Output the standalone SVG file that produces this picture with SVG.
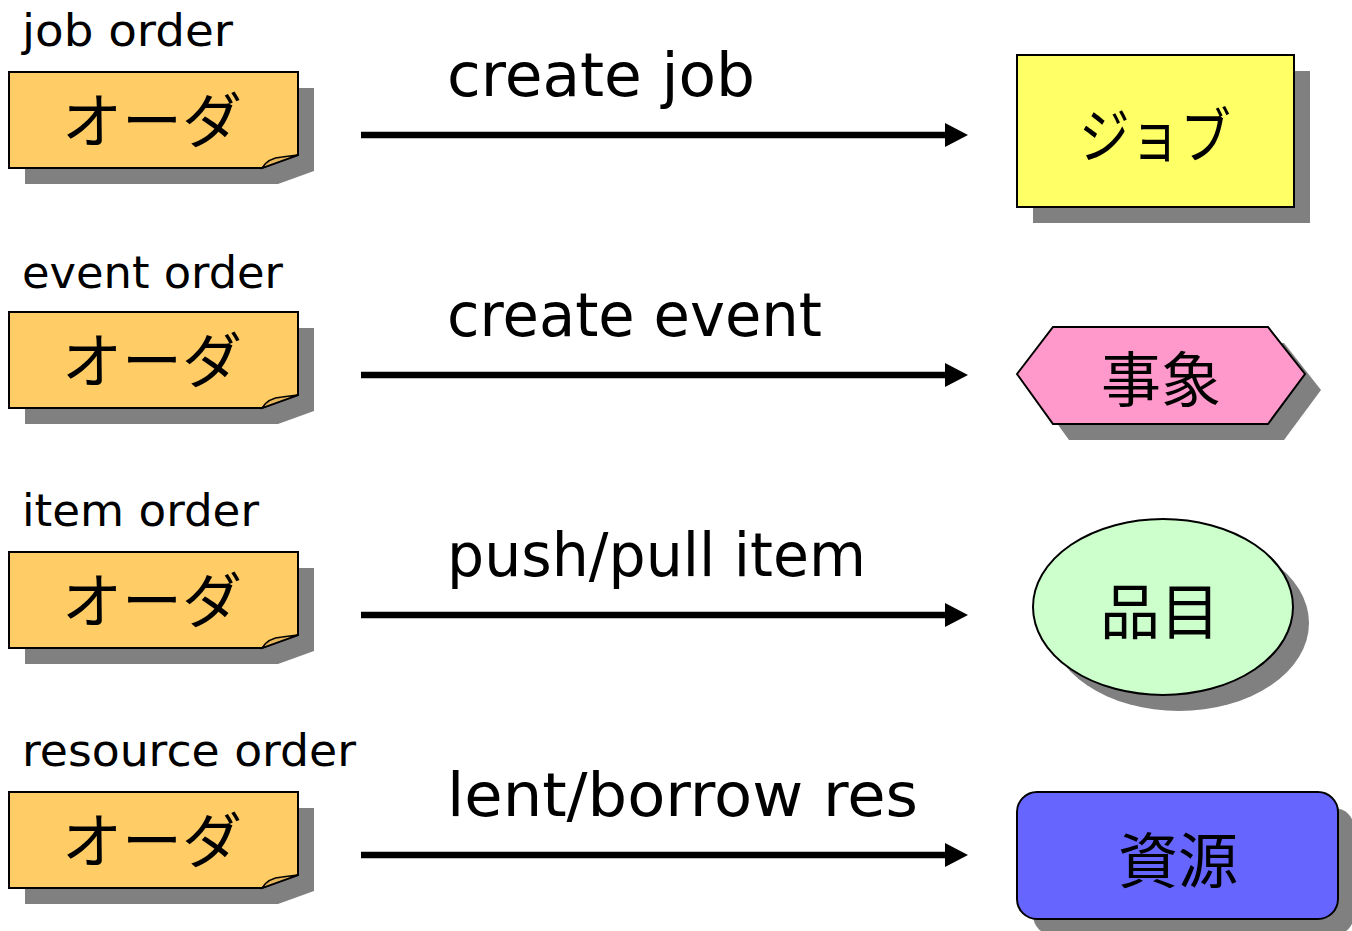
<svg xmlns="http://www.w3.org/2000/svg" width="1352" height="931" viewBox="0 0 1352 931">
<style>
.bg{fill:#ffffff}
.sh{fill:#808080;stroke:none}
.note{fill:#FFCC66;stroke:#000;stroke-width:2;stroke-linejoin:miter}
.flap{fill:#E8B65A;stroke:#000;stroke-width:1.5}
.lbl{font-family:"DejaVu Sans","Noto Sans",sans-serif;font-size:45px;fill:#000}
.elbl{font-family:"DejaVu Sans","Noto Sans",sans-serif;font-size:60px;fill:#000}
.jp{font-family:"Noto Sans CJK JP","Noto Sans CJK SC",sans-serif;font-size:60px;fill:#000;text-anchor:middle}
.edge{stroke:#000;stroke-width:6.5;fill:none}
.head{fill:#000}
</style>
<rect class="bg" x="0" y="0" width="1352" height="931"/>
<defs>
<path id="noteShape" d="M9,72 H298 V155 L262,168 H9 Z"/>
</defs>

<g id="order-job">
<text class="lbl" x="22" y="46" textLength="211" lengthAdjust="spacingAndGlyphs">job order</text>
<use href="#noteShape" class="sh" transform="translate(16,16)"/>
<use href="#noteShape" class="note"/>
<path class="flap" d="M262,168 Q268,158 282,157 L298,155 Z"/>
<text class="jp" x="152" y="143">オーダ</text>
</g>
<g id="order-event" transform="translate(0,240)">
<text class="lbl" x="22" y="48" textLength="261" lengthAdjust="spacingAndGlyphs">event order</text>
<use href="#noteShape" class="sh" transform="translate(16,16)"/>
<use href="#noteShape" class="note"/>
<path class="flap" d="M262,168 Q268,158 282,157 L298,155 Z"/>
<text class="jp" x="152" y="143">オーダ</text>
</g>
<g id="order-item" transform="translate(0,480)">
<text class="lbl" x="22" y="46" textLength="237" lengthAdjust="spacingAndGlyphs">item order</text>
<use href="#noteShape" class="sh" transform="translate(16,16)"/>
<use href="#noteShape" class="note"/>
<path class="flap" d="M262,168 Q268,158 282,157 L298,155 Z"/>
<text class="jp" x="152" y="143">オーダ</text>
</g>
<g id="order-resource" transform="translate(0,720)">
<text class="lbl" x="22" y="46" textLength="334" lengthAdjust="spacingAndGlyphs">resource order</text>
<use href="#noteShape" class="sh" transform="translate(16,16)"/>
<use href="#noteShape" class="note"/>
<path class="flap" d="M262,168 Q268,158 282,157 L298,155 Z"/>
<text class="jp" x="152" y="143">オーダ</text>
</g>

<g id="connectors">
<line class="edge" x1="361" y1="135" x2="948" y2="135"/>
<polygon class="head" points="945,123 968,135 945,147"/>
<text class="elbl" x="447" y="96" textLength="308" lengthAdjust="spacingAndGlyphs">create job</text>
<line class="edge" x1="361" y1="375" x2="948" y2="375"/>
<polygon class="head" points="945,363 968,375 945,387"/>
<text class="elbl" x="447" y="336" textLength="375" lengthAdjust="spacingAndGlyphs">create event</text>
<line class="edge" x1="361" y1="615" x2="948" y2="615"/>
<polygon class="head" points="945,603 968,615 945,627"/>
<text class="elbl" x="447" y="576" textLength="419" lengthAdjust="spacingAndGlyphs">push/pull item</text>
<line class="edge" x1="361" y1="855" x2="948" y2="855"/>
<polygon class="head" points="945,843 968,855 945,867"/>
<text class="elbl" x="447" y="816" textLength="471" lengthAdjust="spacingAndGlyphs">lent/borrow res</text>
</g>

<g id="job">
<rect class="sh" x="1033" y="71" width="277" height="152"/>
<rect x="1017" y="55" width="277" height="152" fill="#FFFF66" stroke="#000" stroke-width="2"/>
<text class="jp" x="1155" y="158" font-size="56" textLength="152" lengthAdjust="spacingAndGlyphs">ジョブ</text>
</g>
<g id="event">
<polygon class="sh" points="1033,390 1069,343 1284,343 1321,390 1284,440 1069,440"/>
<polygon points="1017,374 1053,327 1268,327 1305,374 1268,424 1053,424" fill="#FF99CC" stroke="#000" stroke-width="2"/>
<text class="jp" x="1161" y="402">事象</text>
</g>
<g id="item">
<ellipse class="sh" cx="1179" cy="623" rx="130" ry="88"/>
<ellipse cx="1163" cy="607" rx="130" ry="88" fill="#CCFFCC" stroke="#000" stroke-width="2"/>
<text class="jp" x="1160" y="634" font-size="56">品目</text>
</g>
<g id="resource">
<rect class="sh" x="1033" y="808" width="321" height="127" rx="20"/>
<rect x="1017" y="792" width="321" height="127" rx="20" fill="#6666FF" stroke="#000" stroke-width="2"/>
<text class="jp" x="1178" y="883">資源</text>
</g>
</svg>
